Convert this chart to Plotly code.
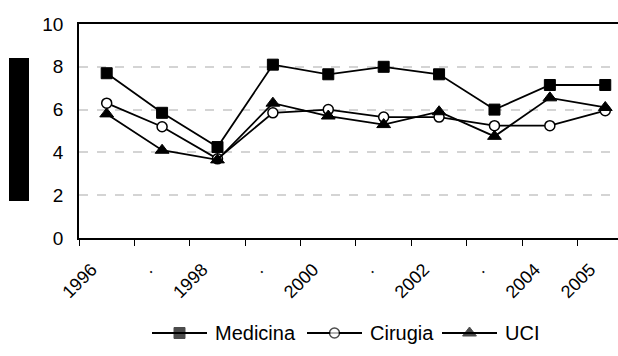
import plotly.graph_objects as go

years = ["1996", "1997", "1998", "1999", "2000", "2001", "2002", "2003", "2004", "2005"]
tick_text = ["1996", ".", "1998", ".", "2000", ".", "2002", ".", "2004", "2005"]

medicina = [7.7, 5.85, 4.25, 8.1, 7.65, 8.0, 7.65, 6.0, 7.15, 7.15]
cirugia = [6.3, 5.2, 3.7, 5.85, 6.0, 5.65, 5.65, 5.25, 5.25, 5.95]
uci = [5.8, 4.1, 3.65, 6.3, 5.7, 5.3, 5.9, 4.75, 6.55, 6.1]

FONT = "Liberation Sans, Arial, sans-serif"
W, H = 618, 356
ML, MT = 79, 24
PLOT_H = H - MT
pos = list(range(len(years)))

markers = {
    "Medicina": dict(symbol="square", size=11, color="black",
                     line=dict(color="black", width=1)),
    "Cirugia": dict(symbol="circle", size=10, color="white",
                    line=dict(color="black", width=1.5)),
    "UCI": dict(symbol="triangle-up", size=12, color="black",
                line=dict(color="black", width=1)),
}
series = [("Medicina", medicina), ("Cirugia", cirugia), ("UCI", uci)]

fig = go.Figure()
for name, vals in series:
    fig.add_trace(go.Scatter(
        x=pos, y=vals, name=name, mode="lines+markers",
        line=dict(color="black", width=1.8),
        marker=markers[name], cliponaxis=False, showlegend=False,
    ))

# Legend drawn on its own hidden axis pair, laid out in pixels.
KEY_LEN = 55
KEY_X0 = [152, 307, 442]
TEXT_GAP = 6
annotations = []
for (name, _), x0 in zip(series, KEY_X0):
    m = dict(markers[name])
    m["size"] = [0, m["size"], 0]
    fig.add_trace(go.Scatter(
        x=[x0, x0 + KEY_LEN / 2, x0 + KEY_LEN], y=[0, 0, 0],
        xaxis="x2", yaxis="y2", mode="lines+markers",
        line=dict(color="black", width=1.8), marker=m,
        showlegend=False, hoverinfo="skip", cliponaxis=False,
    ))
    annotations.append(dict(
        x=x0 + KEY_LEN + TEXT_GAP, y=0, xref="x2", yref="y2", text=name,
        showarrow=False, xanchor="left", yanchor="middle",
        font=dict(size=20, family=FONT, color="black"),
    ))

plot_bottom_px = 238
legend_center_px = 333
y_dom0 = (H - plot_bottom_px) / PLOT_H
leg_c = (H - legend_center_px) / PLOT_H

fig.update_layout(
    width=W, height=H,
    margin=dict(l=ML, r=0, t=MT, b=0, autoexpand=False),
    paper_bgcolor="white", plot_bgcolor="white",
    font=dict(family=FONT, size=18, color="black"),
    showlegend=False,
    xaxis=dict(
        range=[-0.5, 9.23], tickmode="array", tickvals=pos, ticktext=tick_text,
        tickangle=-45, ticks="", showgrid=False, zeroline=False,
        showline=True, linecolor="black", linewidth=2, mirror=True,
        minor=dict(tickmode="linear", tick0=-0.5, dtick=1, ticks="outside",
                   ticklen=6, tickcolor="black", tickwidth=1, showgrid=False),
        tickfont=dict(size=18), ticklabelshift=-15, ticklabelstandoff=12,
        anchor="y", automargin=False,
    ),
    yaxis=dict(
        domain=[y_dom0, 1],
        range=[0, 10], tickvals=[0, 2, 4, 6, 8, 10], ticks="",
        showgrid=True, gridcolor="#d4d4d4", griddash="dash", gridwidth=1.5,
        zeroline=False, showline=True, linecolor="black", linewidth=1.5,
        ticklabelstandoff=10, tickfont=dict(size=19), automargin=False,
    ),
    xaxis2=dict(domain=[0, 1], range=[ML, W], visible=False, anchor="y2",
                automargin=False),
    yaxis2=dict(domain=[leg_c - 0.04, leg_c + 0.04], range=[-1, 1],
                visible=False, anchor="x2", automargin=False),
    annotations=annotations,
    shapes=[dict(type="rect", xref="paper", yref="paper",
                 x0=(9 - ML) / (W - ML), x1=(29 - ML) / (W - ML),
                 y0=(H - 201) / PLOT_H, y1=(H - 58) / PLOT_H,
                 fillcolor="black", line=dict(width=0))],
)

fig.write_html("out.html")
